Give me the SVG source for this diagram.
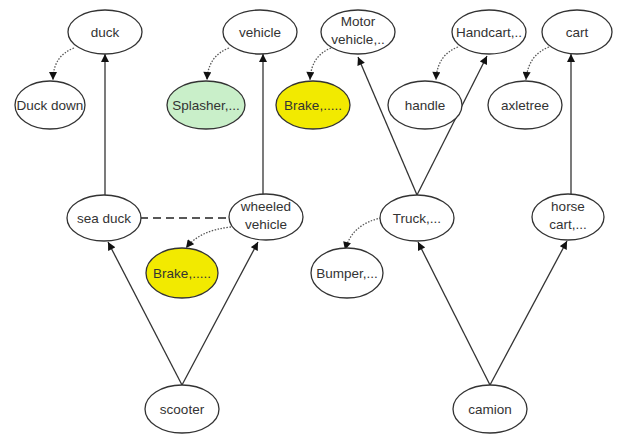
<svg xmlns="http://www.w3.org/2000/svg" width="619" height="434" viewBox="0 0 619 434">
<style>
.n ellipse{fill:#fff;stroke:#333;stroke-width:1.3}
.n text{font-family:"Liberation Sans",Arial,sans-serif;font-size:13.5px;fill:#333;text-anchor:middle}
.y ellipse{fill:#f2ea00}
.g ellipse{fill:#c9efc9}
.e{fill:none;stroke:#333;stroke-width:1.3}
.d{fill:none;stroke:#555;stroke-width:1.3;stroke-dasharray:1.5 1.5}
.h{fill:none;stroke:#222;stroke-width:1.3;stroke-dasharray:8 5}
</style>
<defs>
<marker id="a" viewBox="0 0 10 10" refX="10" refY="5" markerWidth="10" markerHeight="8" markerUnits="userSpaceOnUse" orient="auto"><path d="M0,0L10,5L0,10z" fill="#111"/></marker>
<marker id="b" viewBox="0 0 10 10" refX="10" refY="5" markerWidth="9" markerHeight="8" markerUnits="userSpaceOnUse" orient="auto"><path d="M0,0L10,5L0,10z" fill="#111"/></marker>
</defs>
<rect width="619" height="434" fill="#fff"/>
<g id="connectors">
<path class="e" d="M105,195V54" marker-end="url(#a)"/>
<path class="e" d="M263,195V54" marker-end="url(#a)"/>
<path class="e" d="M571,195V54" marker-end="url(#a)"/>
<path class="e" d="M182,385L108,242" marker-end="url(#a)"/>
<path class="e" d="M182,385L258,242" marker-end="url(#a)"/>
<path class="e" d="M417,195L358,57" marker-end="url(#a)"/>
<path class="e" d="M417,195L487,56" marker-end="url(#a)"/>
<path class="e" d="M490,385L418,242" marker-end="url(#a)"/>
<path class="e" d="M490,385L567,241" marker-end="url(#a)"/>
<path class="h" d="M140,218H230"/>
<path class="d" d="M74,48Q53,56 53,80" marker-end="url(#b)"/>
<path class="d" d="M229,48Q208,56 207,80" marker-end="url(#b)"/>
<path class="d" d="M331,48Q311,56 310,80" marker-end="url(#b)"/>
<path class="d" d="M458,47Q437,55 436,80" marker-end="url(#b)"/>
<path class="d" d="M549,47Q528,55 526,80" marker-end="url(#b)"/>
<path class="d" d="M231,227Q200,230 186,248" marker-end="url(#b)"/>
<path class="d" d="M381,218Q352,224 345,250" marker-end="url(#b)"/>
</g>
<g id="duck" class="n"><ellipse cx="105" cy="32" rx="37" ry="22"/><text x="105" y="36.5">duck</text></g>
<g id="vehicle" class="n"><ellipse cx="260" cy="32" rx="37" ry="22"/><text x="260" y="36.5">vehicle</text></g>
<g id="motor-vehicle" class="n"><ellipse cx="358" cy="32" rx="37" ry="22"/><text x="358" y="26">Motor</text><text x="358" y="44">vehicle,..</text></g>
<g id="handcart" class="n"><ellipse cx="489" cy="32" rx="37" ry="22"/><text x="489" y="36.5">Handcart,..</text></g>
<g id="cart" class="n"><ellipse cx="577" cy="32" rx="35" ry="22"/><text x="577" y="36.5">cart</text></g>
<g id="duck-down" class="n"><ellipse cx="50" cy="105" rx="35" ry="24"/><text x="50" y="109.5">Duck down</text></g>
<g id="splasher" class="n g"><ellipse cx="206" cy="105" rx="39" ry="24"/><text x="206" y="109.5">Splasher,...</text></g>
<g id="brake-top" class="n y"><ellipse cx="313" cy="105" rx="37" ry="24"/><text x="313" y="109.5">Brake,.....</text></g>
<g id="handle" class="n"><ellipse cx="425" cy="105" rx="37" ry="24"/><text x="425" y="109.5">handle</text></g>
<g id="axletree" class="n"><ellipse cx="525" cy="105" rx="37" ry="24"/><text x="525" y="109.5">axletree</text></g>
<g id="sea-duck" class="n"><ellipse cx="104" cy="218" rx="37" ry="23"/><text x="104" y="222.5">sea duck</text></g>
<g id="wheeled-vehicle" class="n"><ellipse cx="266" cy="217" rx="37" ry="23"/><text x="266" y="211">wheeled</text><text x="266" y="229">vehicle</text></g>
<g id="truck" class="n"><ellipse cx="417" cy="218" rx="37" ry="23"/><text x="417" y="222.5">Truck,...</text></g>
<g id="horse-cart" class="n"><ellipse cx="568" cy="217" rx="36" ry="23"/><text x="568" y="211">horse</text><text x="568" y="229">cart,...</text></g>
<g id="brake-low" class="n y"><ellipse cx="182" cy="273" rx="36" ry="25"/><text x="182" y="277.5">Brake,.....</text></g>
<g id="bumper" class="n"><ellipse cx="347" cy="273" rx="36" ry="25"/><text x="347" y="277.5">Bumper,...</text></g>
<g id="scooter" class="n"><ellipse cx="182" cy="409" rx="37" ry="24"/><text x="182" y="413.5">scooter</text></g>
<g id="camion" class="n"><ellipse cx="490" cy="409" rx="37" ry="24"/><text x="490" y="413.5">camion</text></g>
</svg>
